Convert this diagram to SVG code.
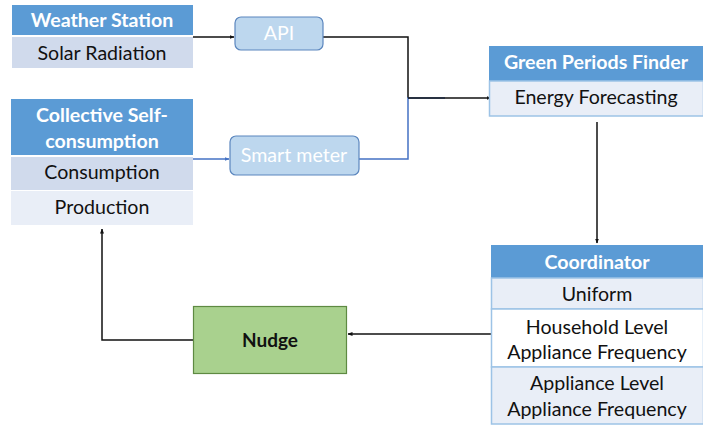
<svg xmlns="http://www.w3.org/2000/svg" width="703" height="427" viewBox="0 0 703 427">
<defs>
<style>
.hdr{fill:#5B9BD5}
.r1{fill:#D0DAEC}
.r2{fill:#E9EEF7}
.r3{fill:#FFFFFF}
.bd{stroke:#9DC3E6;stroke-width:1.5}
.ht{font-family:Lato,"Liberation Sans",sans-serif;font-weight:bold;font-size:19.6px;fill:#FFFFFF;text-anchor:middle}
.t{font-family:Lato,"Liberation Sans",sans-serif;font-size:19.6px;fill:#111111;text-anchor:middle}
.pill{fill:#BDD7EE;stroke:#5B86BE;stroke-width:1.2}
.pt{font-family:Lato,"Liberation Sans",sans-serif;font-size:19.6px;fill:#FFFFFF;text-anchor:middle}
.k{fill:none;stroke:#111111;stroke-width:1.5}
.b{fill:none;stroke:#4472C4;stroke-width:1.5}
</style>
<marker id="ah" viewBox="0 0 10 10" refX="9" refY="5" markerWidth="5" markerHeight="5" orient="auto" markerUnits="userSpaceOnUse">
<path d="M0,1 L10,5 L0,9 Z" fill="#111111"/>
</marker>
<marker id="ahb" viewBox="0 0 10 10" refX="9" refY="5" markerWidth="5" markerHeight="5" orient="auto" markerUnits="userSpaceOnUse">
<path d="M0,1 L10,5 L0,9 Z" fill="#4472C4"/>
</marker>
</defs>
<rect width="703" height="427" fill="#FFFFFF"/>

<g id="connectors">
<path class="k" d="M193,37 H234" marker-end="url(#ah)"/>
<path class="b" d="M193,159 H229" marker-end="url(#ahb)"/>
<path class="k" d="M323,37 H408 V98"/>
<path class="b" d="M359,159 H408 V98 H445"/>
<path class="k" d="M408,98 H491" marker-end="url(#ah)"/>
<path class="k" d="M597,122 V243" marker-end="url(#ah)"/>
<path class="k" d="M491,334 H348" marker-end="url(#ah)"/>
<path class="k" d="M193,340 H102 V229" marker-end="url(#ah)"/>
</g>

<g id="weather-station">
<rect class="hdr" x="12" y="5" width="181" height="30"/>
<rect class="r1" x="12" y="37" width="181" height="31"/>
<text class="ht" x="102" y="27">Weather Station</text>
<text class="t" x="102" y="60">Solar Radiation</text>
</g>

<g id="collective-self-consumption">
<rect class="hdr" x="11" y="99" width="182" height="56"/>
<rect class="r1" x="11" y="157" width="182" height="33"/>
<rect class="r2" x="11" y="191" width="182" height="34"/>
<text class="ht" x="102" y="122">Collective Self-</text>
<text class="ht" x="102" y="148">consumption</text>
<text class="t" x="102" y="179">Consumption</text>
<text class="t" x="102" y="214">Production</text>
</g>

<g id="api">
<rect class="pill" x="235" y="17" width="88" height="33" rx="6"/>
<text class="pt" x="279" y="40">API</text>
</g>

<g id="smart-meter">
<rect class="pill" x="230" y="136" width="129" height="39" rx="6"/>
<text class="pt" x="294" y="162">Smart meter</text>
</g>

<g id="green-periods-finder">
<rect class="hdr" x="489" y="46" width="214" height="35"/>
<rect class="r2 bd" x="489.5" y="81" width="214" height="35"/>
<text class="ht" x="596" y="69">Green Periods Finder</text>
<text class="t" x="596" y="104">Energy Forecasting</text>
</g>

<g id="coordinator">
<rect class="hdr" x="491" y="245" width="212" height="33"/>
<rect class="r2 bd" x="491.5" y="278" width="212" height="31"/>
<rect class="r3 bd" x="491.5" y="309" width="212" height="58"/>
<rect class="r2 bd" x="491.5" y="367" width="212" height="57"/>
<text class="ht" x="597" y="269">Coordinator</text>
<text class="t" x="597" y="301">Uniform</text>
<text class="t" x="597" y="334">Household Level</text>
<text class="t" x="597" y="359">Appliance Frequency</text>
<text class="t" x="597" y="390">Appliance Level</text>
<text class="t" x="597" y="416">Appliance Frequency</text>
</g>

<g id="nudge">
<rect x="193.5" y="306.5" width="153" height="67" fill="#A9D18E" stroke="#5E8A42" stroke-width="1.2"/>
<text x="270" y="347" font-family="Lato,'Liberation Sans',sans-serif" font-weight="bold" font-size="19" fill="#111111" text-anchor="middle">Nudge</text>
</g>
</svg>
